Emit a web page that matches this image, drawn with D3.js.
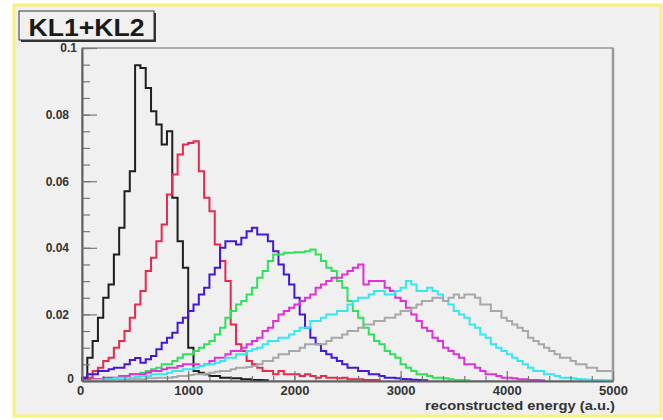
<!DOCTYPE html>
<html>
<head>
<meta charset="utf-8">
<script src="https://cdn.jsdelivr.net/npm/d3@7"></script>
<style>
  html, body { margin: 0; padding: 0; background: #ffffff; }
  svg { display: block; }
  text { font-family: "Liberation Sans", Arial, Helvetica, sans-serif; }
</style>
</head>
<body>
<svg id="chart" width="663" height="420"></svg>
<script>
// Histogram binning (reconstructed energy, a.u.)
const binWidth = 50;

// Axis ticks and labels
const xTicks = [0, 1000, 2000, 3000, 4000, 5000];
const xTickLabels = ["0", "1000", "2000", "3000", "4000", "5000"];
const yTicks = [0, 0.02, 0.04, 0.06, 0.08, 0.1];
const yTickLabels = ["0", "0.02", "0.04", "0.06", "0.08", "0.1"];

const titleText = "KL1+KL2";
const xAxisTitle = "reconstructed energy (a.u.)";

// Normalised bin contents, one entry per 50-unit bin starting at 0
const histBlack = [0.001, 0.007, 0.012, 0.019, 0.025, 0.029, 0.038, 0.046, 0.057, 0.063,
  0.0948, 0.094, 0.088, 0.081, 0.077, 0.071, 0.075, 0.055, 0.042, 0.034,
  0.010, 0.003, 0.0025, 0.002, 0.0015, 0.0015, 0.001, 0.001, 0.0008, 0.0008,
  0.0005, 0.0005, 0.0003, 0.0003, 0.0002];

const histRed = [0.0005, 0.001, 0.003, 0.004, 0.006, 0.007, 0.010, 0.012, 0.015, 0.019,
  0.023, 0.027, 0.033, 0.037, 0.042, 0.047, 0.056, 0.062, 0.068, 0.071,
  0.0715, 0.072, 0.063, 0.055, 0.051, 0.041, 0.036, 0.030, 0.017, 0.011,
  0.009, 0.006, 0.005, 0.004, 0.003, 0.003, 0.002, 0.003, 0.002, 0.002,
  0.002, 0.0015, 0.002, 0.0015, 0.001, 0.0015, 0.001, 0.001, 0.0008, 0.001,
  0.0005, 0.0005, 0.0005, 0.0003, 0.0003, 0.0003];

const histBlue = [0.001, 0.002, 0.002, 0.003, 0.003, 0.0035, 0.004, 0.004, 0.005, 0.0063,
  0.0069, 0.0055, 0.0065, 0.0075, 0.0095, 0.0115, 0.013, 0.0145, 0.0175, 0.019,
  0.021, 0.023, 0.026, 0.028, 0.032, 0.034, 0.040, 0.042, 0.042, 0.041,
  0.043, 0.045, 0.046, 0.044, 0.044, 0.042, 0.039, 0.035, 0.032, 0.029,
  0.025, 0.020, 0.016, 0.013, 0.011, 0.009, 0.008, 0.007, 0.006, 0.005,
  0.004, 0.004, 0.003, 0.003, 0.002, 0.002, 0.0015, 0.001, 0.001, 0.0008,
  0.0006, 0.0005, 0.0004, 0.0003, 0.0002];

const histGreen = [0, 0.0003, 0.0005, 0.0005, 0.0008, 0.001, 0.001, 0.0012, 0.0015, 0.002,
  0.002, 0.0025, 0.003, 0.0035, 0.004, 0.005, 0.005, 0.006, 0.007, 0.008,
  0.008, 0.009, 0.010, 0.011, 0.012, 0.014, 0.016, 0.019, 0.021, 0.023,
  0.024, 0.026, 0.028, 0.031, 0.033, 0.036, 0.038, 0.038, 0.0385, 0.0385,
  0.0387, 0.0387, 0.039, 0.0395, 0.038, 0.036, 0.034, 0.033, 0.030, 0.028,
  0.024, 0.021, 0.019, 0.016, 0.014, 0.012, 0.011, 0.009, 0.008, 0.007,
  0.005, 0.004, 0.003, 0.002, 0.002, 0.0015, 0.001, 0.001, 0.0008, 0.0005,
  0.0003, 0.0003, 0.0002];

const histMagenta = [0, 0.0003, 0.0005, 0.0005, 0.001, 0.001, 0.001, 0.0015, 0.0015, 0.002,
  0.002, 0.002, 0.0025, 0.003, 0.003, 0.0035, 0.004, 0.004, 0.0045, 0.005,
  0.005, 0.005, 0.0045, 0.005, 0.006, 0.007, 0.007, 0.008, 0.009, 0.009,
  0.010, 0.011, 0.012, 0.013, 0.015, 0.016, 0.018, 0.020, 0.021, 0.022,
  0.023, 0.024, 0.025, 0.026, 0.028, 0.029, 0.030, 0.031, 0.031, 0.032,
  0.033, 0.034, 0.035, 0.029, 0.030, 0.030, 0.030, 0.028, 0.027, 0.025,
  0.024, 0.022, 0.020, 0.018, 0.016, 0.015, 0.013, 0.012, 0.010, 0.009,
  0.008, 0.007, 0.005, 0.005, 0.004, 0.003, 0.002, 0.002, 0.0015, 0.001,
  0.001, 0.0008, 0.0005, 0.0005, 0.0003, 0.0003, 0.0002];

const histCyan = [0, 0, 0.0003, 0.0003, 0.0005, 0.0005, 0.0008, 0.001, 0.001, 0.001,
  0.0012, 0.0015, 0.0015, 0.002, 0.002, 0.002, 0.0025, 0.003, 0.003, 0.0035,
  0.0035, 0.004, 0.0045, 0.005, 0.005, 0.0055, 0.006, 0.007, 0.007, 0.008,
  0.008, 0.009, 0.0095, 0.010, 0.011, 0.012, 0.012, 0.013, 0.013, 0.014,
  0.015, 0.016, 0.016, 0.018, 0.018, 0.019, 0.020, 0.020, 0.021, 0.021,
  0.023, 0.024, 0.025, 0.025, 0.026, 0.027, 0.027, 0.026, 0.026, 0.027,
  0.028, 0.030, 0.029, 0.027, 0.027, 0.028, 0.027, 0.026, 0.024, 0.023,
  0.021, 0.020, 0.019, 0.017, 0.016, 0.014, 0.013, 0.011, 0.010, 0.009,
  0.008, 0.007, 0.006, 0.005, 0.004, 0.003, 0.003, 0.002, 0.002, 0.0015,
  0.001, 0.001, 0.0008, 0.0006, 0.0005, 0.0004, 0.0003, 0.0003, 0.0002, 0.0002];

const histGray = [0, 0, 0, 0, 0, 0.0002, 0.0002, 0.0003, 0.0003, 0.0005,
  0.0005, 0.0005, 0.0008, 0.0008, 0.001, 0.001, 0.001, 0.0012, 0.0015, 0.0015,
  0.0018, 0.002, 0.002, 0.0022, 0.0025, 0.0028, 0.003, 0.003, 0.0035, 0.004,
  0.004, 0.0042, 0.0045, 0.005, 0.006, 0.006, 0.007, 0.008, 0.008, 0.009,
  0.009, 0.010, 0.011, 0.011, 0.011, 0.011, 0.012, 0.013, 0.013, 0.014,
  0.015, 0.015, 0.016, 0.017, 0.017, 0.018, 0.018, 0.019, 0.019, 0.020,
  0.021, 0.021, 0.022, 0.023, 0.024, 0.024, 0.025, 0.025, 0.024, 0.025,
  0.026, 0.025, 0.026, 0.026, 0.025, 0.023, 0.023, 0.021, 0.021, 0.019,
  0.018, 0.017, 0.016, 0.015, 0.013, 0.012, 0.011, 0.010, 0.009, 0.008,
  0.007, 0.007, 0.006, 0.005, 0.005, 0.004, 0.004, 0.003, 0.003, 0.003];

// Drawing order and line colours
const histograms = [histBlack, histRed, histBlue, histGreen, histMagenta, histCyan, histGray];
const lineColors = ["#1e1e1e", "#e8284c", "#4418d8", "#30e05a", "#e030dc", "#34e8f0", "#a8a8a8"];

const svg = d3.select("#chart");
const W = 663, H = 420;
const plot = { left: 82, right: 613, top: 48, bottom: 381 };

// Canvas: white surround, light grey pad with a yellow frame
svg.append("rect").attr("x", 0).attr("y", 0).attr("width", W).attr("height", H).attr("fill", "#ffffff");
svg.append("rect")
  .attr("x", 14).attr("y", 5).attr("width", 647).attr("height", 411)
  .attr("fill", "#f0f0f0").attr("stroke", "#f6f27a").attr("stroke-width", 3);

const x = d3.scaleLinear().domain([0, 5000]).range([plot.left, plot.right]);
const y = d3.scaleLinear().domain([0, 0.1]).range([plot.bottom, plot.top]);

// Frame around the plotting area
svg.append("rect")
  .attr("x", plot.left).attr("y", plot.top)
  .attr("width", plot.right - plot.left).attr("height", plot.bottom - plot.top)
  .attr("fill", "none").attr("stroke", "#808080").attr("stroke-width", 1.2);
svg.append("line")
  .attr("x1", plot.right).attr("x2", plot.right).attr("y1", plot.top).attr("y2", plot.bottom)
  .attr("stroke", "#9a9a9a").attr("stroke-width", 2.5);

// Step outline of a histogram, closed down to zero at both ends
function stepPoints(counts) {
  const pts = [[0, 0]];
  counts.forEach((v, i) => {
    pts.push([i * binWidth, v]);
    pts.push([(i + 1) * binWidth, v]);
  });
  pts.push([counts.length * binWidth, 0]);
  return pts;
}
const line = d3.line().x(d => x(d[0])).y(d => y(d[1]));

const gHist = svg.append("g");
histograms.forEach((counts, k) => {
  gHist.append("path")
    .attr("d", line(stepPoints(counts)))
    .attr("fill", "none")
    .attr("stroke", lineColors[k])
    .attr("stroke-width", 2)
    .attr("stroke-linejoin", "miter");
});

// Y axis: minor ticks every 0.005, labelled major ticks every 0.02
const yMinor = d3.range(0, 0.1 + 1e-9, 0.005);
svg.append("g")
  .attr("transform", `translate(${plot.left},0)`)
  .call(d3.axisLeft(y).tickValues(yMinor).tickSizeInner(-8).tickSizeOuter(0).tickFormat(""))
  .call(g => g.select(".domain").remove())
  .call(g => g.selectAll("line").attr("stroke", "#777").attr("stroke-width", 1.2));

const yAxis = svg.append("g")
  .attr("transform", `translate(${plot.left},0)`)
  .call(d3.axisLeft(y).tickValues(yTicks).tickSizeInner(-15).tickSizeOuter(0).tickPadding(13)
    .tickFormat((d, i) => yTickLabels[i]));
yAxis.select(".domain").attr("stroke", "#606060").attr("stroke-width", 2);
yAxis.selectAll("line").attr("stroke", "#777").attr("stroke-width", 1.2);
yAxis.selectAll("text")
  .attr("fill", "#333").attr("font-size", 12).attr("font-weight", "bold")
  .attr("font-family", "'Liberation Sans', Arial, sans-serif")
  .attr("x", (d) => d === 0.1 ? -5 : (d === 0 ? -8 : -13))
  .attr("dy", (d) => d === 0 ? "0.1em" : "0.32em");

// X axis: ticks point up into the plot
const xMinor = d3.range(0, 5001, 200);
svg.append("g")
  .attr("transform", `translate(0,${plot.bottom})`)
  .call(d3.axisBottom(x).tickValues(xMinor).tickSizeInner(-5).tickSizeOuter(0).tickFormat(""))
  .call(g => g.select(".domain").remove())
  .call(g => g.selectAll("line").attr("stroke", "#777").attr("stroke-width", 1.2));

const xAxis = svg.append("g")
  .attr("transform", `translate(0,${plot.bottom})`)
  .call(d3.axisBottom(x).tickValues(xTicks).tickSizeInner(-10).tickSizeOuter(0).tickPadding(5)
    .tickFormat((d, i) => xTickLabels[i]));
xAxis.select(".domain").attr("stroke", "#606060").attr("stroke-width", 2);
xAxis.selectAll("line").attr("stroke", "#777").attr("stroke-width", 1.2);
xAxis.selectAll("text")
  .attr("fill", "#333").attr("font-size", 13).attr("font-weight", "bold")
  .attr("font-family", "'Liberation Sans', Arial, sans-serif")
  .attr("dx", (d) => d === 0 ? "-2" : "0");

// Axis title, right-aligned under the axis end
svg.append("text")
  .attr("x", plot.right + 2).attr("y", 410)
  .attr("text-anchor", "end")
  .attr("fill", "#333").attr("font-size", 12.5).attr("font-weight", "bold")
  .attr("textLength", 190).attr("lengthAdjust", "spacingAndGlyphs")
  .text(xAxisTitle);

// Title box with drop shadow
const tb = { x: 19, y: 11, w: 135, h: 29 };
svg.append("rect").attr("x", tb.x + 2).attr("y", tb.y + 2).attr("width", tb.w).attr("height", tb.h)
  .attr("fill", "#333");
svg.append("rect").attr("x", tb.x).attr("y", tb.y).attr("width", tb.w).attr("height", tb.h)
  .attr("fill", "#f0f0f0").attr("stroke", "#333").attr("stroke-width", 1);
svg.append("text")
  .attr("x", tb.x + tb.w / 2).attr("y", tb.y + 25)
  .attr("text-anchor", "middle")
  .attr("fill", "#1a1a1a").attr("font-size", 24).attr("font-weight", "bold")
  .attr("textLength", 116).attr("lengthAdjust", "spacingAndGlyphs")
  .text(titleText);
</script>
</body>
</html>
